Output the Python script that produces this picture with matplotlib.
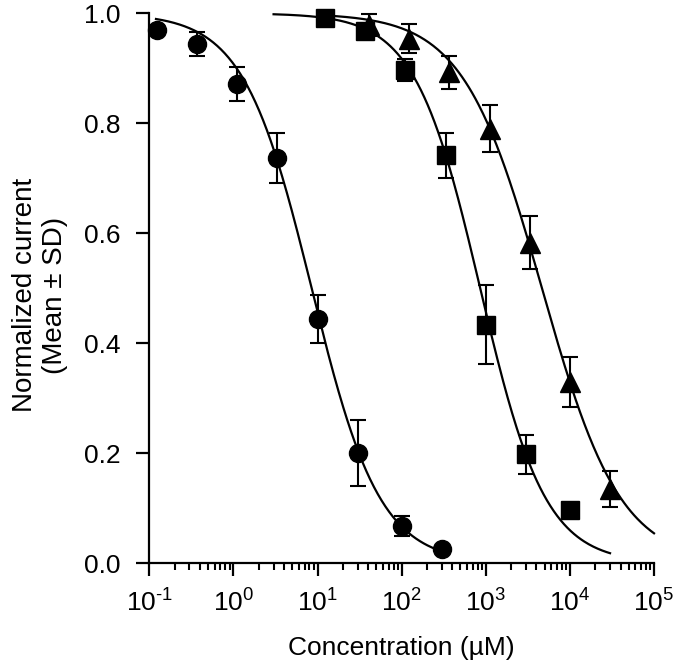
import matplotlib
matplotlib.use("Agg")
import matplotlib.pyplot as plt
from matplotlib.ticker import FuncFormatter
import numpy as np

plt.rcParams["font.family"] = ["Liberation Sans", "DejaVu Sans"]
plt.rcParams["mathtext.fontset"] = "custom"
plt.rcParams["mathtext.rm"] = "Liberation Sans"
plt.rcParams["mathtext.it"] = "Liberation Sans"

# data (concentration in uM, normalized current mean and SD)
circ_conc = [0.123, 0.37, 1.11, 3.33, 10, 30, 100, 300]
circ_mean = [0.970, 0.944, 0.871, 0.737, 0.444, 0.201, 0.068, 0.026]
circ_sd = [0.008, 0.022, 0.031, 0.046, 0.044, 0.060, 0.018, 0.0]

sq_conc = [12.3, 37, 111, 333, 1000, 3000, 10000]
sq_mean = [0.991, 0.967, 0.897, 0.742, 0.434, 0.198, 0.097]
sq_sd = [0.005, 0.010, 0.020, 0.041, 0.072, 0.035, 0.0]

tri_conc = [41, 123, 370, 1111, 3333, 10000, 30000]
tri_mean = [0.979, 0.954, 0.893, 0.790, 0.583, 0.330, 0.135]
tri_sd = [0.020, 0.026, 0.030, 0.043, 0.048, 0.045, 0.032]

# Hill fit parameters (IC50, slope, curve start, curve end)
circ_fit = (8.5, 1.07, 0.12, 300)
sq_fit = (858, 1.12, 3, 30000)
tri_fit = (4650, 0.93, 12, 1e5)


def hill(x, ic50, n):
    return 1.0 / (1.0 + (x / ic50) ** n)


def decade_label(v, pos):
    e = int(round(np.log10(v)))
    exp = r"\text{-}%d" % -e if e < 0 else "%d" % e
    return r"$\mathdefault{10^{%s}}$" % exp


fig = plt.figure(figsize=(6.8, 6.64), dpi=100)
ax = fig.add_axes([0.2196, 0.1517, 0.9618 - 0.2196, 0.98 - 0.1517])

for conc, mean, sd, fit, mk in [(circ_conc, circ_mean, circ_sd, circ_fit, "o"),
                                (sq_conc, sq_mean, sq_sd, sq_fit, "s"),
                                (tri_conc, tri_mean, tri_sd, tri_fit, "^")]:
    ic50, n, x0, x1 = fit
    xs = np.logspace(np.log10(x0), np.log10(x1), 300)
    ax.plot(xs, hill(xs, ic50, n), color="black", lw=1.6, zorder=2, clip_on=False)
    ax.errorbar(conc, mean, yerr=sd, fmt=mk, color="black", ms=13 if mk != "^" else 14,
                ecolor="black", elinewidth=1.5, capsize=6, capthick=1.5,
                zorder=3, clip_on=False)

ax.set_xscale("log")
ax.set_xlim(0.1, 1e5)
ax.set_ylim(0, 1.0)
ax.xaxis.set_major_formatter(FuncFormatter(decade_label))
ax.set_yticks([0.0, 0.2, 0.4, 0.6, 0.8, 1.0])
ax.set_yticklabels(["0.0", "0.2", "0.4", "0.6", "0.8", "1.0"])

for s in ("top", "right"):
    ax.spines[s].set_visible(False)
for s in ("left", "bottom"):
    ax.spines[s].set_linewidth(1.6)

ax.tick_params(axis="both", which="major", direction="out", length=9.5, width=1.6,
               labelsize=19)
ax.tick_params(axis="y", which="major", pad=11)
ax.tick_params(axis="x", which="major", pad=9)
ax.tick_params(axis="x", which="minor", direction="out", length=5, width=1.5)
ax.tick_params(axis="y", which="minor", length=0)

ax.set_xlabel("Concentration (µM)", fontsize=19, labelpad=14)
fig.text(40 / 680, 1 - 295 / 664, "Normalized current\n(Mean ± SD)", fontsize=20,
         rotation=90, ha="center", va="center", multialignment="center",
         linespacing=1.2)

fig.savefig("out.png", dpi=100)
